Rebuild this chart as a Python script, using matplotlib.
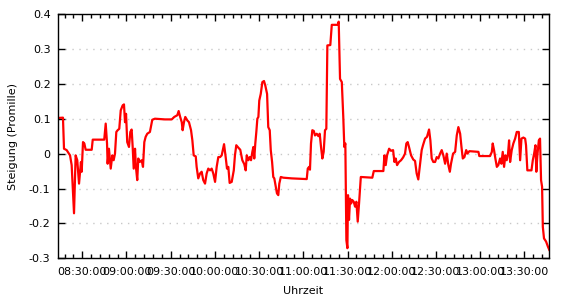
import matplotlib
matplotlib.use("Agg")
import matplotlib.pyplot as plt
from matplotlib.ticker import FuncFormatter, MultipleLocator

plt.rcParams.update({'font.size': 8, 'font.family': 'DejaVu Sans'})

# time in minutes since midnight, slope in per mille
minutes = [
    493.2, 496.9, 497.6, 499.4, 501.7, 502.8, 504.4, 505.5, 506.6, 507.8,
    509.1, 509.6, 510.5, 511.4, 512.3, 516.4, 517.1, 524.9, 525.9, 526.8,
    527.2, 528.1, 529.3, 530.4, 531.3, 532.2, 533.1, 534.0, 535.1, 536.1,
    537.4, 538.3, 539.0, 539.7, 540.5, 541.7, 542.6, 543.5, 544.2, 544.9,
    545.8, 546.4, 547.3, 548.0, 549.0, 550.3, 551.2, 552.1, 553.0, 554.1,
    555.9, 557.5, 559.3, 566.1, 570.7, 572.4, 574.5, 575.4, 576.3, 577.5,
    578.1, 579.0, 579.9, 581.3, 582.4, 583.8, 584.7, 585.6, 587.0, 587.6,
    588.7, 589.9, 591.0, 592.1, 593.3, 594.4, 595.5, 596.7, 597.8, 598.9,
    600.1, 601.2, 602.3, 603.5, 604.6, 606.2, 607.3, 608.2, 609.1, 610.0,
    611.4, 612.8, 613.6, 614.5, 615.9, 617.2, 618.6, 619.9, 620.9, 621.6,
    622.7, 623.6, 624.5, 625.4, 626.1, 626.7, 627.4, 628.1, 628.8, 629.5,
    630.1, 631.1, 632.2, 633.3, 634.2, 635.4, 636.2, 637.2, 637.9, 638.8,
    639.6, 640.3, 641.3, 642.1, 643.0, 643.7, 644.7, 646.4, 652.1, 662.3,
    663.0, 663.9, 664.5, 665.2, 666.1, 667.1, 667.9, 669.1, 670.2, 671.1,
    672.0, 672.9, 673.8, 674.7, 675.6, 676.3, 678.3, 679.3, 683.3, 684.0,
    684.9, 686.1, 687.1, 687.8, 688.5, 689.2, 689.9, 690.3, 691.0, 691.7,
    692.4, 693.2, 694.2, 695.1, 696.0, 696.9, 697.8, 699.0, 706.8, 707.8,
    714.3, 715.0, 715.9, 716.8, 718.2, 719.5, 720.9, 721.8, 722.7, 723.6,
    724.9, 726.3, 727.7, 729.0, 729.9, 730.8, 731.7, 733.1, 734.6, 735.8,
    736.9, 738.0, 739.0, 740.3, 741.2, 742.6, 743.9, 745.3, 746.2, 747.1,
    748.2, 749.4, 750.5, 751.6, 752.8, 753.9, 755.0, 756.2, 757.3, 758.4,
    759.4, 760.2, 761.6, 763.0, 764.1, 765.2, 766.4, 767.3, 768.2, 769.3,
    770.5, 771.3, 772.7, 778.8, 779.4, 786.7, 787.9, 788.5, 789.4, 790.3,
    791.3, 792.3, 793.5, 794.4, 795.3, 796.2, 797.1, 798.0, 798.9, 799.6,
    800.3, 801.4, 802.5, 803.7, 804.8, 806.2, 807.1, 808.0, 809.3, 810.5,
    811.1, 812.0, 814.8, 815.7, 816.6, 817.5, 818.1, 818.8, 819.8, 820.6,
    821.3, 822.0, 822.5, 823.3, 824.7, 826.0, 826.9,
]
slope = [
    0.102, 0.103, 0.014, 0.010, -0.005, -0.033, -0.171, -0.005, -0.019, -0.086,
    -0.024, -0.052, 0.033, 0.029, 0.011, 0.011, 0.040, 0.040, 0.086, 0.029,
    -0.029, 0.014, -0.043, -0.005, -0.019, 0.000, 0.062, 0.067, 0.071, 0.124,
    0.138, 0.141, 0.090, 0.114, 0.033, 0.019, 0.062, 0.069, 0.019, -0.043,
    0.014, -0.038, -0.076, -0.014, -0.024, -0.019, -0.038, 0.033, 0.048, 0.057,
    0.062, 0.097, 0.100, 0.098, 0.098, 0.105, 0.110, 0.122, 0.107, 0.090,
    0.067, 0.090, 0.105, 0.095, 0.090, 0.067, 0.038, -0.005, -0.008, -0.038,
    -0.071, -0.057, -0.052, -0.076, -0.086, -0.057, -0.043, -0.048, -0.043, -0.057,
    -0.081, -0.038, -0.010, -0.010, -0.005, 0.027, -0.010, -0.043, -0.038, -0.084,
    -0.081, -0.048, -0.005, 0.024, 0.017, 0.011, -0.019, -0.030, -0.048, -0.005,
    -0.019, -0.010, -0.019, 0.005, 0.019, -0.014, 0.029, 0.062, 0.100, 0.105,
    0.152, 0.171, 0.205, 0.208, 0.195, 0.171, 0.076, 0.067, 0.010, -0.024,
    -0.067, -0.071, -0.095, -0.114, -0.119, -0.086, -0.067, -0.069, -0.071, -0.073,
    -0.043, -0.038, -0.046, 0.029, 0.067, 0.065, 0.052, 0.057, 0.050, 0.057,
    0.019, -0.014, 0.005, 0.067, 0.071, 0.310, 0.311, 0.369, 0.369, 0.378,
    0.214, 0.205, 0.105, 0.019, 0.029, -0.248, -0.271, -0.119, -0.190, -0.129,
    -0.143, -0.133, -0.138, -0.152, -0.138, -0.195, -0.143, -0.067, -0.069, -0.050,
    -0.050, -0.005, -0.033, -0.005, 0.014, 0.008, 0.010, -0.024, -0.014, -0.033,
    -0.024, -0.019, -0.011, 0.000, 0.029, 0.033, 0.019, -0.005, -0.017, -0.021,
    -0.057, -0.074, -0.038, 0.010, 0.024, 0.043, 0.048, 0.069, 0.038, -0.014,
    -0.024, -0.024, -0.010, -0.014, 0.000, 0.010, -0.005, -0.029, 0.000, -0.033,
    -0.052, -0.029, 0.000, 0.005, 0.052, 0.076, 0.057, 0.019, -0.014, -0.010,
    0.010, 0.000, 0.007, 0.005, -0.007, -0.007, 0.005, 0.029, 0.010, -0.014,
    -0.038, -0.033, -0.014, -0.029, 0.005, -0.038, -0.005, -0.019, 0.000, 0.038,
    -0.024, 0.010, 0.029, 0.043, 0.062, 0.062, -0.019, 0.043, 0.046, 0.043,
    0.024, -0.048, -0.048, -0.019, 0.000, 0.024, -0.052, -0.005, 0.038, 0.043,
    -0.076, -0.095, -0.210, -0.243, -0.252, -0.267, -0.276,
]


def clock(m, pos=None):
    m = int(round(m))
    return '%02d:%02d:00' % (m // 60, m % 60)


fig = plt.figure(figsize=(5.7, 3.0), dpi=100)
ax = fig.add_axes([0.1009, 0.139, 0.8628, 0.8143])

ax.plot(minutes, slope, color='#ff0000', lw=1.6)

ax.set_xlim(minutes[0], minutes[-1])
ax.set_ylim(-0.3, 0.4)
ax.xaxis.set_major_locator(MultipleLocator(30))
ax.xaxis.set_minor_locator(MultipleLocator(6))
ax.xaxis.set_major_formatter(FuncFormatter(clock))
ax.yaxis.set_major_locator(MultipleLocator(0.1))
ax.yaxis.set_major_formatter(FuncFormatter(lambda v, p: '%g' % round(v, 2)))

ax.tick_params(which='both', direction='in', top=True, right=True, width=1, colors='black')
ax.tick_params(which='major', length=5)
ax.tick_params(which='minor', length=3)
ax.tick_params(axis='x', pad=6)
ax.tick_params(axis='y', pad=5)

ax.grid(axis='y', color='#c8c8c8', linestyle=(0, (1, 4)), linewidth=1)

for s in ax.spines.values():
    s.set_linewidth(1)

ax.set_xlabel('Uhrzeit', labelpad=7)
ax.set_ylabel('Steigung (Promille)', labelpad=8)

fig.savefig('out.png', dpi=100)
